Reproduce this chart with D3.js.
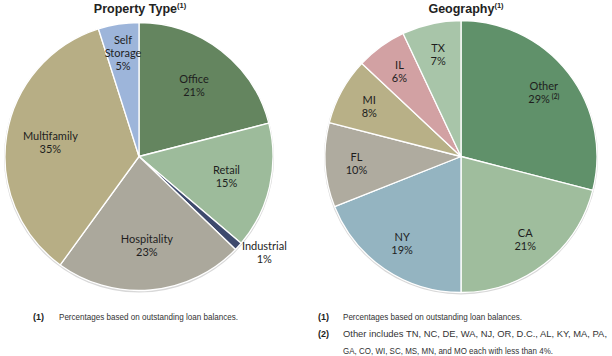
<!DOCTYPE html>
<html><head><meta charset="utf-8">
<script src="https://cdn.jsdelivr.net/npm/d3@7"></script>
<style>
body{margin:0;background:#fff;}
svg{display:block;}
</style></head>
<body>
<svg id="c" width="612" height="356"></svg>
<script>
// ---- data ----
const propCategories = ["Office","Retail","Industrial","Hospitality","Multifamily","Self Storage"];
const propValues = [21, 15.2, 1.0, 22.8, 35.1, 4.9];
const propLabels = ["21%","15%","1%","23%","35%","5%"];
const propColors = ["#64855f","#9dbb9b","#3e4a6d","#aba89c","#b7ae85","#9db5da"];

const geoCategories = ["Other","CA","NY","FL","MI","IL","TX"];
const geoValues = [29, 21, 19, 10, 8, 6, 7];
const geoLabels = ["29%","21%","19%","10%","8%","6%","7%"];
const geoColors = ["#60916a","#9fbd9d","#94b4c1","#afab9f","#b8b087","#d2a1a3","#a8c5a9"];

const leftNotes = [["(1)","Percentages based on outstanding loan balances."]];
const rightNotes = [["(1)","Percentages based on outstanding loan balances."],
  ["(2)","Other includes TN, NC, DE, WA, NJ, OR, D.C., AL, KY, MA, PA,"],
  ["","GA, CO, WI, SC, MS, MN, and MO each with less than 4%."]];

const svg = d3.select("#c");
const labelFont = "Lato,'Noto Sans',sans-serif";
const arialFont = "'Liberation Sans',Arial,sans-serif";

function drawPie(cfg){
  const g = svg.append("g").attr("transform",`translate(${cfg.cx},${cfg.cy})`);
  const pie = d3.pie().sort(null).value(d=>d.v);
  const data = cfg.cats.map((c,i)=>({c, v:cfg.vals[i], l:cfg.labels[i], col:cfg.colors[i], i}));
  const arcs = pie(data);
  const arc = d3.arc().innerRadius(0).outerRadius(cfg.r);
  g.append("circle").attr("r",cfg.r+1).attr("cy",1).attr("fill","#d8d8d8");
  g.selectAll("path.s").data(arcs).join("path").attr("class","s")
    .attr("d",arc).attr("fill",d=>d.data.col)
    .attr("stroke","#fff").attr("stroke-width",1.3).attr("stroke-linejoin","round");
  arcs.forEach(d=>{
    const lr = cfg.labelR(d);
    const [x,y] = d3.arc().innerRadius(lr).outerRadius(lr).centroid(d);
    const off = cfg.off ? cfg.off(d) : [0,0];
    const lines = cfg.split(d.data.c).concat([d.data.l]);
    const lh = 13;
    const t = g.append("text").attr("text-anchor","middle")
      .attr("font-family",labelFont).attr("font-size",11).attr("fill","#1e1e1e");
    lines.forEach((s,k)=>{
      t.append("tspan").attr("x",x+off[0])
        .attr("y",y + off[1] + (k-(lines.length-1)/2)*lh + 4).text(s);
    });
    if(cfg.sup && cfg.sup(d)){
      t.append("tspan").attr("dx",2).attr("dy",-4).attr("font-size",6.5).attr("font-weight","bold").text(cfg.sup(d));
    }
  });
}

const small = d=> (d.endAngle-d.startAngle) < 0.1;
drawPie({cx:139, cy:156.5, r:134, cats:propCategories, vals:propValues, labels:propLabels, colors:propColors,
  labelR:d=> small(d) ? 134*1.1 : ((d.endAngle-d.startAngle) < 0.35 ? 134*0.78 : 134*0.67),
  split:c=> c==="Self Storage" ? ["Self","Storage"] : [c],
  off:d=> small(d) ? [16,-3] : [0,0]
});
drawPie({cx:461, cy:156.5, r:136, cats:geoCategories, vals:geoValues, labels:geoLabels, colors:geoColors,
  labelR:d=>136*0.77,
  split:c=>[c],
  sup:d=> d.data.c==="Other" ? "(2)" : null
});

// titles
function title(x, txt){
  const t = svg.append("text").attr("x",x).attr("y",12.5).attr("text-anchor","middle")
    .attr("font-family",arialFont).attr("font-weight","bold").attr("font-size",12.5).attr("fill","#222");
  t.append("tspan").text(txt);
  t.append("tspan").attr("dy",-5).attr("font-size",7.5).text("(1)");
}
title(140,"Property Type");
title(466,"Geography");

// footnotes
const noteWidths = {left:[179], right:[179,264,210]};
function notes(x0, x1, y0, arr, widths){
  arr.forEach((n,i)=>{
    const y = y0 + i*17;
    if(n[0]) svg.append("text").attr("x",x0).attr("y",y).attr("font-family",arialFont)
      .attr("font-weight","bold").attr("font-size",9).attr("fill","#222").text(n[0]);
    svg.append("text").attr("x",x1).attr("y",y).attr("font-family",arialFont)
      .attr("font-size",9).attr("fill","#333")
      .attr("textLength",widths[i]).attr("lengthAdjust","spacingAndGlyphs").text(n[1]);
  });
}
notes(33, 59, 320, leftNotes, noteWidths.left);
notes(318, 343, 320, rightNotes, noteWidths.right);
</script>
</body></html>
